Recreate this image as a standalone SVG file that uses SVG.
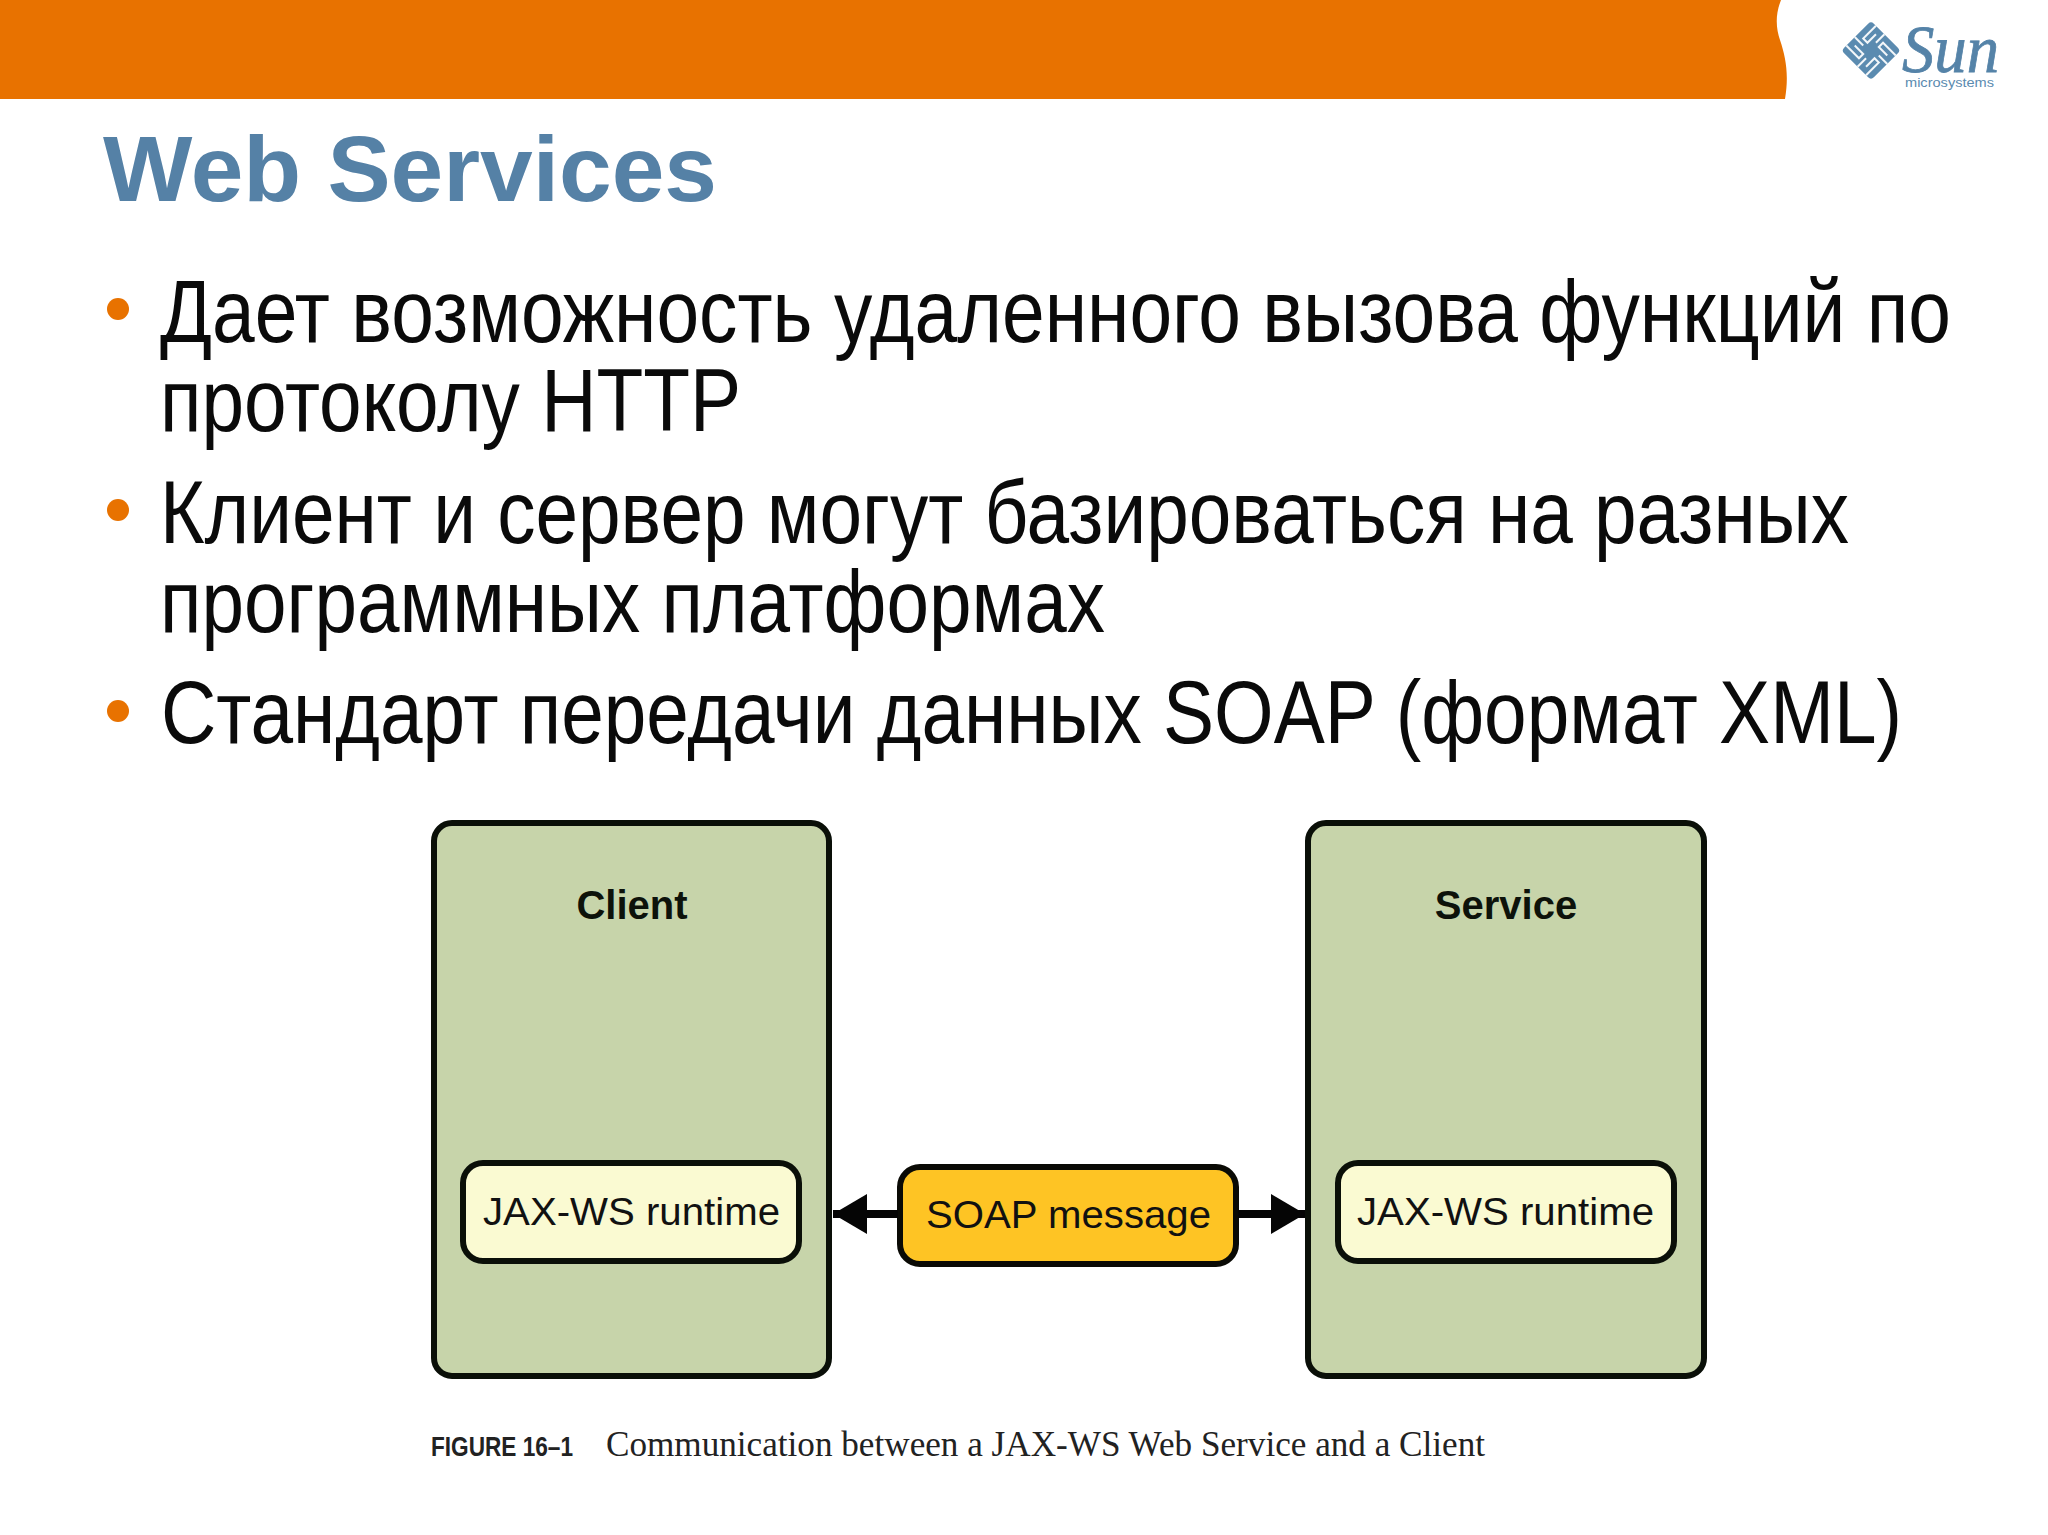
<svg xmlns="http://www.w3.org/2000/svg" width="2048" height="1535" viewBox="0 0 2048 1535">
<style>
.body{font-family:"Liberation Sans",Arial,sans-serif;font-size:89px;fill:#0a0a0a}
.lab{font-family:"Liberation Sans",Arial,sans-serif;font-size:39px;fill:#111}
.head{font-family:"Liberation Sans",Arial,sans-serif;font-size:40px;font-weight:bold;fill:#0d120a;text-anchor:middle}
.outer{fill:#c7d4aa;stroke:#0a0f08;stroke-width:6}
.inner{fill:#fafad2;stroke:#0a0f08;stroke-width:6}
.bul{fill:#e87200}
</style>
<defs>
<marker id="ah" markerUnits="userSpaceOnUse" markerWidth="36" markerHeight="42" refX="34" refY="20" orient="auto"><path d="M0 0L34 20L0 40Z" fill="#050505"/></marker>
</defs>
<rect width="2048" height="1535" fill="#fff"/>
<path id="banner" d="M0 0H1781C1775 15 1776 28 1780 40C1786 58 1789 75 1785 99H0Z" fill="#e87200"/>
<g id="logo">
<g transform="translate(1871 50.5) rotate(45)">
<rect x="-21" y="-21" width="42" height="42" rx="4" fill="#5b8bb0"/>
<path d="M-14 -21V-3H-8V-15M-2 -21V-9M-21 14H-3V8H-15M-21 2H-9M14 21V3H8V15M2 21V9M21 -14H3V-8H15M21 -2H9" stroke="#f2f6f9" stroke-width="2" fill="none"/>
</g>
<text x="1902" y="72" font-family="Liberation Serif,serif" font-style="italic" font-size="68" fill="#5583a8" stroke="#5583a8" stroke-width="0.8" textLength="97" lengthAdjust="spacingAndGlyphs">Sun</text>
<text x="1905" y="87" font-family="Liberation Sans,sans-serif" font-size="13" fill="#5b8bb0" textLength="89" lengthAdjust="spacingAndGlyphs">microsystems</text>
</g>
<text id="title" x="103" y="201" font-family="Liberation Sans,Arial,sans-serif" font-size="92" font-weight="bold" fill="#5581a6" textLength="614" lengthAdjust="spacingAndGlyphs">Web Services</text>
<g id="bullets">
<circle class="bul" cx="118" cy="309" r="11"/>
<circle class="bul" cx="118" cy="510" r="11"/>
<circle class="bul" cx="118" cy="711" r="11"/>
<text class="body" transform="translate(160 342) scale(.8 1)" textLength="2238.75" lengthAdjust="spacingAndGlyphs">Дает возможность удаленного вызова функций по</text>
<text class="body" transform="translate(160 431) scale(.8 1)" textLength="726.25" lengthAdjust="spacingAndGlyphs">протоколу HTTP</text>
<text class="body" transform="translate(160 543) scale(.8 1)" textLength="2111.25" lengthAdjust="spacingAndGlyphs">Клиент и сервер могут базироваться на разных</text>
<text class="body" transform="translate(160 632) scale(.8 1)" textLength="1181.25" lengthAdjust="spacingAndGlyphs">программных платформах</text>
<text class="body" transform="translate(161 743) scale(.8 1)" textLength="2176.25" lengthAdjust="spacingAndGlyphs">Стандарт передачи данных SOAP (формат XML)</text>
</g>
<g id="client"><rect class="outer" x="434" y="823" width="395" height="553" rx="18"/><text class="head" x="632" y="919">Client</text></g>
<g id="service"><rect class="outer" x="1308" y="823" width="396" height="553" rx="18"/><text class="head" x="1506" y="919">Service</text></g>
<g id="client-runtime"><rect class="inner" x="463" y="1163" width="336" height="98" rx="20"/><text class="lab" x="483" y="1225" textLength="297" lengthAdjust="spacingAndGlyphs">JAX-WS runtime</text></g>
<g id="service-runtime"><rect class="inner" x="1338" y="1163" width="336" height="98" rx="20"/><text class="lab" x="1357" y="1225" textLength="297" lengthAdjust="spacingAndGlyphs">JAX-WS runtime</text></g>
<g id="soap"><rect x="900" y="1167" width="336" height="97" rx="20" fill="#fec424" stroke="#0a0a05" stroke-width="6"/><text class="lab" x="926" y="1228" textLength="285" lengthAdjust="spacingAndGlyphs">SOAP message</text></g>
<g id="connectors" stroke="#050505" stroke-width="8" fill="none">
<line x1="898" y1="1214" x2="833" y2="1214" marker-end="url(#ah)"/>
<line x1="1238" y1="1214" x2="1305" y2="1214" marker-end="url(#ah)"/>
</g>
<g id="caption" fill="#222">
<text x="431" y="1456" font-family="Liberation Sans,sans-serif" font-size="28" font-weight="bold" textLength="142" lengthAdjust="spacingAndGlyphs">FIGURE 16–1</text>
<text x="606" y="1456" font-family="Liberation Serif,serif" font-size="36" textLength="879" lengthAdjust="spacingAndGlyphs">Communication between a JAX-WS Web Service and a Client</text>
</g>
</svg>
